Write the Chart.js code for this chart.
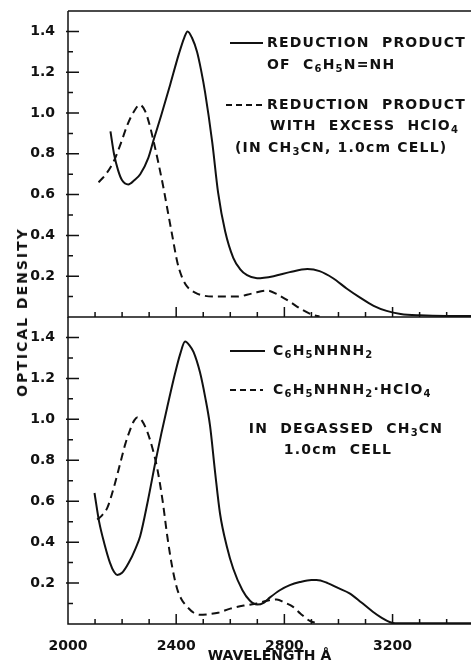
<!DOCTYPE html>
<html>
<head>
<meta charset="utf-8">
<script src="https://cdn.jsdelivr.net/npm/chart.js@4.4.1/dist/chart.umd.min.js"></script>
<style>
  html, body { margin: 0; padding: 0; background: #fff; }
  #wrap { position: relative; width: 471px; height: 665px; overflow: hidden; }
  #wrap canvas { position: absolute; left: 0; }
  #ytitle {
    position: absolute; left: 22px; top: 312px;
    transform: translate(-50%, -50%) rotate(-90deg);
    font: bold 14px "DejaVu Sans", sans-serif; letter-spacing: 2px;
    white-space: nowrap; color: #111;
  }
</style>
</head>
<body>
<div id="wrap">
  <canvas id="topChart" width="471" height="318" style="top:0"></canvas>
  <canvas id="botChart" width="471" height="348" style="top:317px"></canvas>
  <div id="ytitle">OPTICAL DENSITY</div>
</div>
<script>
// ---- data (wavelength in Å, optical density) ----
const topSolidWl = [2157,2170,2185,2200,2223,2245,2267,2297,2317,2345,2378,2410,2430,2442,2458,2477,2492,2507,2533,2555,2581,2611,2636,2662,2699,2760,2820,2885,2930,2980,3030,3080,3130,3178,3230,3300,3400,3490];
const topSolidOD = [0.91,0.80,0.72,0.67,0.65,0.67,0.70,0.78,0.87,0.99,1.14,1.29,1.37,1.40,1.37,1.30,1.21,1.10,0.86,0.61,0.42,0.29,0.235,0.205,0.19,0.20,0.22,0.235,0.225,0.19,0.14,0.095,0.055,0.03,0.015,0.008,0.005,0.005];

const topDashWl = [2113,2140,2168,2195,2219,2245,2265,2285,2300,2315,2335,2352,2370,2384,2404,2420,2440,2470,2500,2560,2625,2680,2735,2775,2820,2860,2906,2930];
const topDashOD = [0.66,0.70,0.76,0.85,0.94,1.01,1.04,1.01,0.95,0.87,0.75,0.64,0.51,0.41,0.27,0.20,0.15,0.12,0.105,0.10,0.10,0.115,0.13,0.11,0.075,0.04,0.01,0.003];

const botSolidWl = [2098,2115,2135,2155,2170,2182,2200,2225,2250,2267,2295,2323,2345,2367,2395,2415,2433,2450,2464,2488,2507,2525,2544,2562,2587,2611,2645,2672,2699,2725,2747,2783,2820,2857,2900,2919,2960,3000,3041,3085,3127,3160,3189,3210,3490];
const botSolidOD = [0.64,0.50,0.39,0.30,0.255,0.24,0.25,0.30,0.37,0.43,0.60,0.79,0.93,1.06,1.22,1.32,1.38,1.36,1.33,1.23,1.11,0.97,0.74,0.54,0.38,0.27,0.165,0.115,0.095,0.105,0.13,0.165,0.19,0.205,0.215,0.215,0.20,0.175,0.15,0.105,0.06,0.03,0.01,0.004,0.004];

const botDashWl = [2108,2125,2146,2170,2194,2212,2230,2245,2257,2275,2293,2312,2330,2350,2367,2385,2404,2420,2440,2465,2488,2520,2555,2600,2650,2698,2740,2772,2800,2831,2860,2894,2920];
const botDashOD = [0.51,0.53,0.57,0.67,0.79,0.88,0.95,0.995,1.01,0.99,0.94,0.86,0.76,0.60,0.43,0.28,0.17,0.12,0.085,0.055,0.045,0.048,0.055,0.075,0.09,0.10,0.115,0.12,0.105,0.085,0.05,0.015,0.004];

const xLabels = [2000, 2400, 2800, 3200];
const xTickMarks = [2000,2100,2200,2300,2400,2500,2600,2700,2800,2900,3000,3100,3200,3300,3400];
const yLabels = [0.2, 0.4, 0.6, 0.8, 1.0, 1.2, 1.4];
const yTickMarks = [0.1,0.2,0.3,0.4,0.5,0.6,0.7,0.8,0.9,1.0,1.1,1.2,1.3,1.4];

const INK = '#111';
const FONT = '"DejaVu Sans", sans-serif';
const DASH = [8, 5];

const pts = (xs, ys) => xs.map((v, i) => ({x: v, y: ys[i]}));

// text with "_6" style subscripts
function drawRich(ctx, str, x, y, align){
  const parts = [];
  for(let i = 0; i < str.length; i++){
    if(str[i] === '_'){ parts.push({t: str[i+1], sub: true}); i++; }
    else if(parts.length && !parts[parts.length-1].sub) parts[parts.length-1].t += str[i];
    else parts.push({t: str[i], sub: false});
  }
  const big = 'bold 14px ' + FONT, small = 'bold 10px ' + FONT;
  let w = 0;
  parts.forEach(p => { ctx.font = p.sub ? small : big; p.w = ctx.measureText(p.t).width; w += p.w; });
  let cx = align === 'center' ? x - w/2 : x;
  parts.forEach(p => {
    ctx.font = p.sub ? small : big;
    ctx.fillText(p.t, cx, y + (p.sub ? 4 : 0));
    cx += p.w;
  });
}

// frame, inward ticks and the text legend
const framePlugin = {
  id: 'frame',
  afterDraw(chart, args, o){
    const {ctx, chartArea: a, scales: {x, y}} = chart;
    ctx.save();
    ctx.strokeStyle = INK;
    ctx.lineWidth = 1.5;
    ctx.beginPath();
    ctx.moveTo(a.left, a.top); ctx.lineTo(a.left, a.bottom); ctx.lineTo(a.right, a.bottom);
    if(o.topLine){ ctx.moveTo(a.left, a.top); ctx.lineTo(a.right, a.top); }
    xTickMarks.forEach(v => {
      const px = x.getPixelForValue(v);
      const len = v % 400 === 0 ? 10 : 5;
      ctx.moveTo(px, a.bottom); ctx.lineTo(px, a.bottom - len);
    });
    yTickMarks.forEach(v => {
      const py = y.getPixelForValue(v);
      const major = Math.round(v * 10) % 2 === 0;
      ctx.moveTo(a.left - (major ? 2 : 0), py); ctx.lineTo(a.left + (major ? 11 : 5), py);
    });
    ctx.stroke();

    ctx.fillStyle = INK;
    ctx.textBaseline = 'middle';
    ctx.letterSpacing = '1.2px';
    (o.keys || []).forEach(k => {
      ctx.beginPath();
      ctx.lineWidth = 2;
      ctx.setLineDash(k.dash ? [6, 4] : []);
      ctx.moveTo(k.x1, k.y); ctx.lineTo(k.x2, k.y);
      ctx.stroke();
    });
    ctx.setLineDash([]);
    (o.notes || []).forEach(n => drawRich(ctx, n.text, n.x, n.y, n.align));
    ctx.restore();
  }
};

function yScale(){
  return {
    min: 0, max: 1.5,
    grid: {display: false}, border: {display: false},
    afterBuildTicks: s => { s.ticks = yLabels.map(v => ({value: v})); },
    afterFit: s => { s.width = 68; s.paddingTop = 0; s.paddingBottom = 0; },
    ticks: {
      color: INK, padding: 5,
      font: {family: FONT, size: 14, weight: 'bold'},
      callback: v => v.toFixed(1)
    }
  };
}

function line(data, dashed){
  return {
    data: data, borderColor: INK, borderWidth: 2,
    borderDash: dashed ? DASH : [],
    pointRadius: 0, fill: false, cubicInterpolationMode: 'monotone'
  };
}

const common = {
  responsive: false, animation: false,
  plugins: {legend: {display: false}, tooltip: {enabled: false}}
};

new Chart(document.getElementById('topChart'), {
  type: 'line',
  data: {datasets: [line(pts(topSolidWl, topSolidOD), false), line(pts(topDashWl, topDashOD), true)]},
  plugins: [framePlugin],
  options: {
    ...common,
    layout: {padding: {top: 11, bottom: 1, left: 0, right: 0}},
    scales: {
      x: {type: 'linear', min: 2000, max: 3490, display: false},
      y: yScale()
    },
    plugins: {
      ...common.plugins,
      frame: {
        topLine: true,
        keys: [{x1: 230, x2: 263, y: 43}, {x1: 226, x2: 263, y: 105, dash: true}],
        notes: [
          {text: 'REDUCTION  PRODUCT', x: 267, y: 43},
          {text: 'OF  C_6H_5N=NH', x: 267, y: 65},
          {text: 'REDUCTION  PRODUCT', x: 267, y: 105},
          {text: 'WITH  EXCESS  HClO_4', x: 270, y: 126},
          {text: '(IN CH_3CN, 1.0cm CELL)', x: 235, y: 148}
        ]
      }
    }
  }
});

new Chart(document.getElementById('botChart'), {
  type: 'line',
  data: {datasets: [line(pts(botSolidWl, botSolidOD), false), line(pts(botDashWl, botDashOD), true)]},
  plugins: [framePlugin],
  options: {
    ...common,
    layout: {padding: {top: 0, bottom: 0, left: 0, right: 0}},
    scales: {
      x: {
        type: 'linear', min: 2000, max: 3490,
        grid: {display: false}, border: {display: false},
        afterBuildTicks: s => { s.ticks = xLabels.map(v => ({value: v})); },
        afterFit: s => { s.height = 41; s.paddingLeft = 0; s.paddingRight = 0; },
        ticks: {
          color: INK, padding: 6, maxRotation: 0, autoSkip: false,
          font: {family: FONT, size: 14, weight: 'bold'},
          callback: v => String(v)
        },
        title: {
          display: true, text: 'WAVELENGTH Å', color: INK,
          font: {family: FONT, size: 14, weight: 'bold'},
          padding: {top: 2, bottom: 0}
        }
      },
      y: yScale()
    },
    plugins: {
      ...common.plugins,
      frame: {
        topLine: false,
        keys: [{x1: 230, x2: 265, y: 34}, {x1: 230, x2: 263, y: 73, dash: true}],
        notes: [
          {text: 'C_6H_5NHNH_2', x: 273, y: 34},
          {text: 'C_6H_5NHNH_2·HClO_4', x: 273, y: 73},
          {text: 'IN  DEGASSED  CH_3CN', x: 346, y: 112, align: 'center'},
          {text: '1.0cm  CELL', x: 338, y: 133, align: 'center'}
        ]
      }
    }
  }
});
</script>
</body>
</html>
